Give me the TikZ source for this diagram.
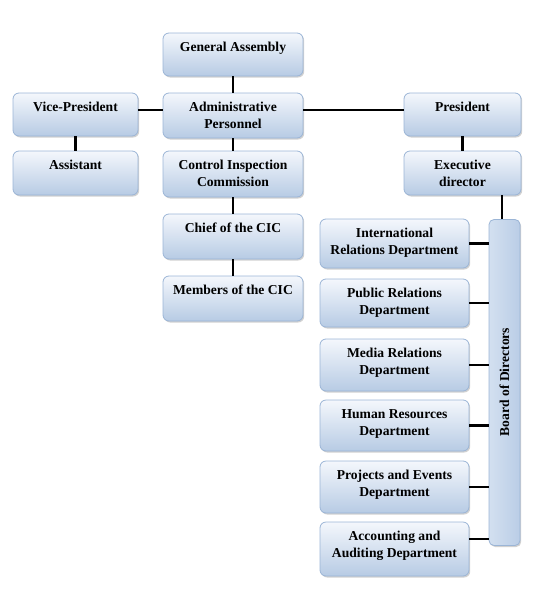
\documentclass[tikz,border=0pt]{standalone}
\usepackage{fontspec}
\setmainfont{Liberation Serif}
\usetikzlibrary{shadows,calc}
\definecolor{boxtop}{HTML}{F4F7FC}
\definecolor{boxbot}{HTML}{B7CBE4}
\definecolor{boxline}{HTML}{9BB5D6}
\definecolor{boardL}{HTML}{D3E0F0}
\definecolor{boardR}{HTML}{BACDE6}
\tikzset{
  orgbox/.style={draw=boxline, line width=0.8pt, rounded corners=6pt,
    top color=boxtop, bottom color=boxbot, inner sep=0pt,
    drop shadow={shadow xshift=1.2pt, shadow yshift=-1.5pt, opacity=0.3, fill=black!60}},
  boardbox/.style={draw=boxline, line width=0.8pt, rounded corners=5pt,
    left color=boardL, right color=boardR, inner sep=0pt,
    drop shadow={shadow xshift=1.2pt, shadow yshift=-1.5pt, opacity=0.3, fill=black!60}},
  orgtext/.style={inner sep=0pt, align=center, text=black,
    font=\bfseries\fontsize{13.6}{17}\selectfont},
  conn/.style={line width=2.6pt, black}
}
\newcommand{\obox}[6]{%
  \node[orgbox, minimum width=#4pt, minimum height=#5pt] (#1) at (#2, #3+#5/2) {};
  \node[orgtext, anchor=north] (#1-t) at (#2, #3+9) {#6};}
\begin{document}
\begin{tikzpicture}[x=1pt,y=-1pt]
\useasboundingbox (0,0) rectangle (536,614);
% connectors
\draw[conn] (233,76) coordinate (c1) -- (233,93);
% boxes
\obox{ga}{233}{33}{140}{43}{General Assembly}
\obox{admin}{233}{93}{140}{45}{Administrative\\Personnel}
\obox{vp}{75.5}{93}{125}{43}{Vice-President}
\obox{asst}{75.5}{151}{125}{44}{Assistant}
\obox{pres}{462.5}{93}{117}{43}{President}
\obox{exec}{462.5}{151}{117}{44}{Executive\\director}
\obox{cic}{233}{151}{140}{46}{Control Inspection\\Commission}
\obox{chief}{233}{214}{140}{45}{Chief of the CIC}
\obox{members}{233}{276}{140}{45}{Members of the CIC}
\node[boardbox, minimum width=31pt, minimum height=326pt] (board) at (504.5,382.5) {};
\node[orgtext, rotate=90] (board-t) at (504.5,382) {Board of Directors};
\obox{intl}{394.5}{219}{149}{49}{International\\Relations Department}
\obox{pub}{394.5}{279}{149}{48}{Public Relations\\Department}
\obox{media}{394.5}{339}{149}{52}{Media Relations\\Department}
\obox{hr}{394.5}{400}{149}{51}{Human Resources\\Department}
\obox{proj}{394.5}{461}{149}{52}{Projects and Events\\Department}
\obox{acc}{394.5}{522}{149}{54}{Accounting and\\Auditing Department}
% connectors between nodes
\draw[conn] (ga.south) -- (admin.north);
\draw[conn] (admin.west |- 0,110) -- (vp.east |- 0,110);
\draw[conn] (admin.east |- 0,110) -- (pres.west |- 0,110);
\draw[conn] (vp.south) -- (asst.north);
\draw[conn] (admin.south) -- (cic.north);
\draw[conn] (cic.south) -- (chief.north);
\draw[conn] (chief.south) -- (members.north);
\draw[conn] (pres.south) -- (exec.north);
\draw[conn] (exec.south -| 502,0) -- (board.north -| 502,0);
\foreach \d in {intl,pub,media,hr,proj}{
  \draw[conn] (\d.east) -- (\d.east -| board.west);
}
\draw[conn] ($(acc.east)+(0,-10)$) -- ($(acc.east -| board.west)+(0,-10)$);
\end{tikzpicture}
\end{document}
